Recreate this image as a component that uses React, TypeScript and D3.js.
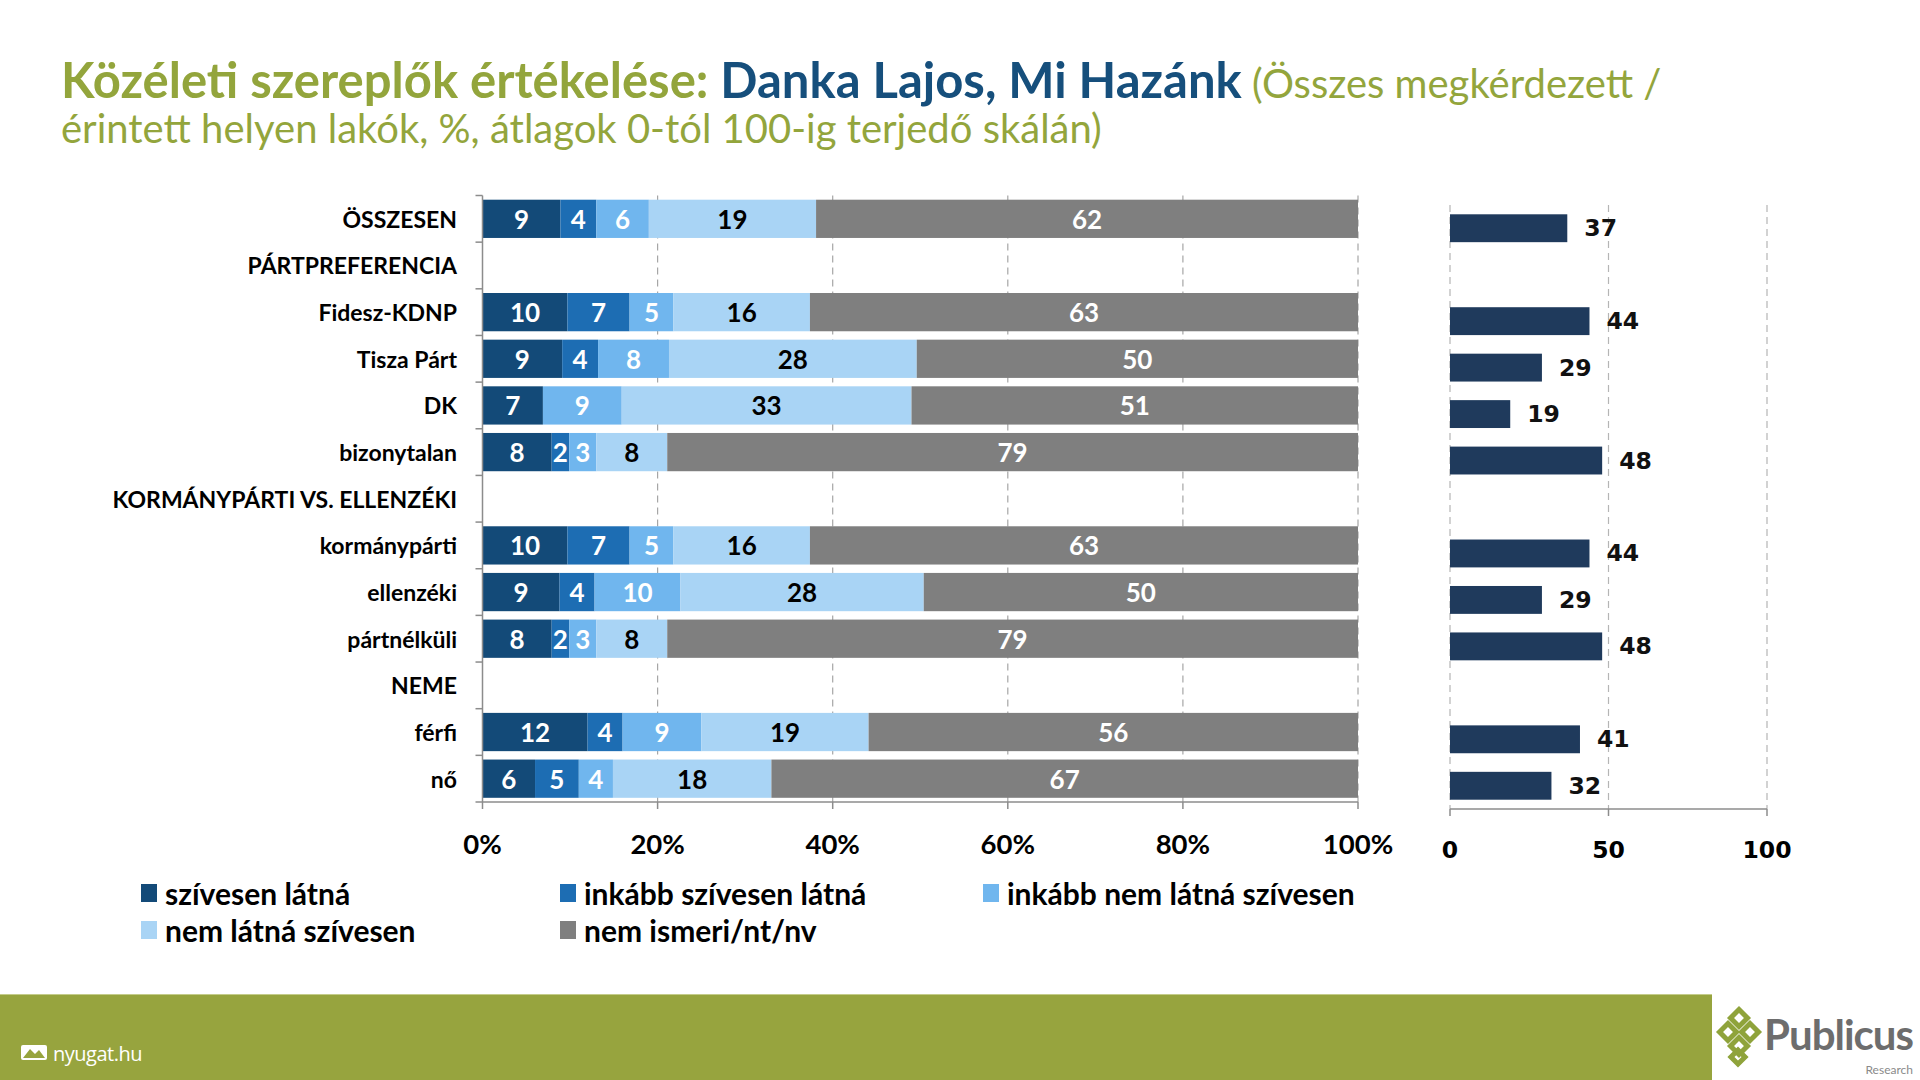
import React from 'react'
import * as d3 from 'd3'

// sorok (a fejlécsorokhoz nincs adat)
const categories = ['ÖSSZESEN', 'PÁRTPREFERENCIA', 'Fidesz-KDNP', 'Tisza Párt', 'DK', 'bizonytalan',
  'KORMÁNYPÁRTI VS. ELLENZÉKI', 'kormánypárti', 'ellenzéki', 'pártnélküli', 'NEME', 'férfi', 'nő']

const seriesNames = ['szívesen látná', 'inkább szívesen látná', 'inkább nem látná szívesen',
  'nem látná szívesen', 'nem ismeri/nt/nv']

const szivesen = [8.9, null, 9.7, 9.1, 6.9, 7.9, null, 9.7, 8.8, 7.9, null, 12.0, 6.0]
const inkabbSzivesen = [4.1, null, 7.1, 4.1, 0, 2.0, null, 7.1, 4.0, 2.0, null, 4.0, 5.0]
const inkabbNem = [6.0, null, 5.0, 8.1, 9.0, 3.1, null, 5.0, 9.8, 3.1, null, 9.0, 3.9]
const nemLatna = [19.1, null, 15.6, 28.3, 33.1, 8.1, null, 15.6, 27.8, 8.1, null, 19.1, 18.1]
const nemIsmeri = [61.9, null, 62.6, 50.4, 51.0, 78.9, null, 62.6, 49.6, 78.9, null, 55.9, 67.0]

// átlagok 0-100
const atlag = [37, null, 44, 29, 19, 48, null, 44, 29, 48, null, 41, 32]

const pctTicks = [0, 20, 40, 60, 80, 100]
const avgTicks = [0, 50, 100]

const colors = ['#134a78', '#1d6db3', '#70b6ee', '#a9d4f5', '#7f7f7f']
const labelColors = ['#fff', '#fff', '#fff', '#000', '#fff']

const olive = '#93a53c'
const navy = '#164f7c'
const calibri = "Lato, 'Noto Sans', sans-serif"
const verdana = "'DejaVu Sans', sans-serif"

export default function App() {
  const keys = ['s0', 's1', 's2', 's3', 's4']
  const table = categories.map((c, i) => ({
    cat: c,
    has: szivesen[i] !== null,
    s0: szivesen[i] || 0,
    s1: inkabbSzivesen[i] || 0,
    s2: inkabbNem[i] || 0,
    s3: nemLatna[i] || 0,
    s4: nemIsmeri[i] || 0,
  }))
  const stacked = d3.stack().keys(keys)(table as any)

  // bal oldali diagram
  const x = d3.scaleLinear().domain([0, 100]).range([482.5, 1358])
  const y = d3.scaleBand().domain(categories).range([195.5, 802]).paddingInner(0.18).paddingOuter(0.09)
  const step = y.step()
  const yTop = 195.5, yBottom = 802

  // jobb oldali diagram
  const x2 = d3.scaleLinear().domain([0, 100]).range([1450, 1767])
  const y2 = d3.scaleBand().domain(categories).range([205, 809]).paddingInner(0.4).paddingOuter(0.2)

  const legendPos = [[141, 893], [560, 893], [983, 893], [141, 930], [560, 930]]

  return (
    <div style={{ position: 'absolute', left: 0, top: 0 }}>
      <svg width={1920} height={1080} style={{ display: 'block', background: '#fff' }}>
        {/* cím */}
        <text x={61} y={98} fontFamily={calibri} fill={olive}>
          <tspan fontWeight="bold" fontSize={49}>Közéleti szereplők értékelése: </tspan>
          <tspan fontWeight="bold" fontSize={49} fill={navy}>Danka Lajos, Mi Hazánk</tspan>
          <tspan fontSize={40}> (Összes megkérdezett /</tspan>
        </text>
        <text x={61} y={143} fontFamily={calibri} fontSize={40} fill={olive}>
          érintett helyen lakók, %, átlagok 0-tól 100-ig terjedő skálán)
        </text>

        {/* rácsvonalak */}
        {pctTicks.slice(1).map(t => (
          <line key={t} x1={x(t)} x2={x(t)} y1={yTop} y2={yBottom} stroke="#a6a6a6" strokeWidth={1.2} strokeDasharray="7,5" />
        ))}

        {/* sávok */}
        {stacked.map((s, si) => (
          <g key={si}>
            {s.map((d, i) => {
              const row = table[i]
              if (!row.has || d[1] - d[0] <= 0) return null
              return (
                <rect key={i} x={x(d[0])} y={y(row.cat)} width={x(d[1]) - x(d[0])} height={y.bandwidth()}
                  fill={colors[si]} />
              )
            })}
          </g>
        ))}
        {stacked.map((s, si) => (
          <g key={'l' + si}>
            {s.map((d, i) => {
              const row = table[i]
              const v = d[1] - d[0]
              if (!row.has || v <= 0) return null
              return (
                <text key={i} x={(x(d[0]) + x(d[1])) / 2} y={(y(row.cat) as number) + y.bandwidth() / 2}
                  textAnchor="middle" dominantBaseline="central" fontFamily={calibri} fontWeight="bold"
                  fontSize={26} fill={labelColors[si]}>{Math.round(v)}</text>
              )
            })}
          </g>
        ))}

        {/* tengelyek */}
        <line x1={x(0)} x2={x(0)} y1={yTop} y2={yBottom} stroke="#8c8c8c" strokeWidth={1.5} />
        {d3.range(categories.length + 1).map(i => (
          <line key={i} x1={x(0) - 7} x2={x(0)} y1={yTop + i * step} y2={yTop + i * step} stroke="#8c8c8c" strokeWidth={1.5} />
        ))}
        <line x1={x(0)} x2={x(100)} y1={yBottom} y2={yBottom} stroke="#8c8c8c" strokeWidth={1.5} />
        {pctTicks.map(t => (
          <g key={t}>
            <line x1={x(t)} x2={x(t)} y1={yBottom} y2={yBottom + 7} stroke="#8c8c8c" strokeWidth={1.5} />
            <text x={x(t)} y={843} textAnchor="middle" dominantBaseline="central" fontFamily={calibri}
              fontWeight="bold" fontSize={27.5} fill="#000">{t + '%'}</text>
          </g>
        ))}
        {categories.map(c => (
          <text key={c} x={457} y={(y(c) as number) + y.bandwidth() / 2} textAnchor="end" dominantBaseline="central"
            fontFamily={calibri} fontWeight="bold" fontSize={23} fill="#000">{c}</text>
        ))}

        {/* jobb diagram */}
        {avgTicks.map(t => (
          <line key={t} x1={x2(t)} x2={x2(t)} y1={205} y2={809} stroke="#b5b5b5" strokeWidth={1.2} strokeDasharray="7,5" />
        ))}
        {categories.map((c, i) => atlag[i] === null ? null : (
          <g key={c}>
            <rect x={x2(0)} y={y2(c)} width={x2(atlag[i] as number) - x2(0)} height={y2.bandwidth()} fill="#1f3a5c" />
            <text x={x2(atlag[i] as number) + 17} y={(y2(c) as number) + y2.bandwidth() / 2} dominantBaseline="central"
              fontFamily={verdana} fontWeight="bold" fontSize={23.5} fill="#111">{atlag[i]}</text>
          </g>
        ))}
        <line x1={x2(0)} x2={x2(100)} y1={809} y2={809} stroke="#8c8c8c" strokeWidth={1.5} />
        {avgTicks.map(t => (
          <g key={t}>
            <line x1={x2(t)} x2={x2(t)} y1={809} y2={816} stroke="#8c8c8c" strokeWidth={1.5} />
            <text x={x2(t)} y={850} textAnchor="middle" dominantBaseline="central" fontFamily={verdana}
              fontWeight="bold" fontSize={23.5} fill="#000">{t}</text>
          </g>
        ))}

        {/* jelmagyarázat */}
        {seriesNames.map((n, i) => (
          <g key={n}>
            <rect x={legendPos[i][0]} y={legendPos[i][1] - 9} width={16} height={18} fill={colors[i]} />
            <text x={legendPos[i][0] + 24} y={legendPos[i][1]} dominantBaseline="central" fontFamily={calibri}
              fontWeight="bold" fontSize={30} fill="#000">{n}</text>
          </g>
        ))}

        {/* lábléc */}
        <rect x={0} y={994} width={1712} height={86} fill="#97a43e" />
        <line x1={0} x2={1712} y1={994.5} y2={994.5} stroke="#c4cc8a" strokeWidth={1} />
        <rect x={21} y={1045} width={26} height={15} rx={2} fill="#fff" />
        <path d="M23,1058 L30,1049 L35,1054 L39,1050 L45,1058 Z" fill="#97a43e" />
        <text x={53} y={1053} dominantBaseline="central" fontFamily="'Liberation Sans Narrow', 'Open Sans', sans-serif"
          fontSize={20} fill="#fff" letterSpacing={-0.5}>nyugat.hu</text>

        {/* Publicus logó */}
        <g fill="none" stroke="#8fa33b" strokeWidth={5}>
          <rect x={1733} y={1012} width={12} height={12} transform="rotate(45 1739 1018)" />
          <rect x={1722} y={1026} width={12} height={12} transform="rotate(45 1728 1032)" />
          <rect x={1744} y={1026} width={12} height={12} transform="rotate(45 1750 1032)" />
          <rect x={1733} y={1040} width={12} height={12} transform="rotate(45 1739 1046)" />
          <rect x={1733} y={1052} width={10} height={10} transform="rotate(45 1738 1057)" />
        </g>
        <text x={1913} y={1050} textAnchor="end" fontFamily={calibri} fontWeight="bold"
          fontSize={42} fill="#6d6d6d" letterSpacing={-1}>Publicus</text>
        <text x={1913} y={1074} textAnchor="end" fontFamily={calibri}
          fontSize={12} fill="#8a8a8a">Research</text>
      </svg>
    </div>
  )
}
